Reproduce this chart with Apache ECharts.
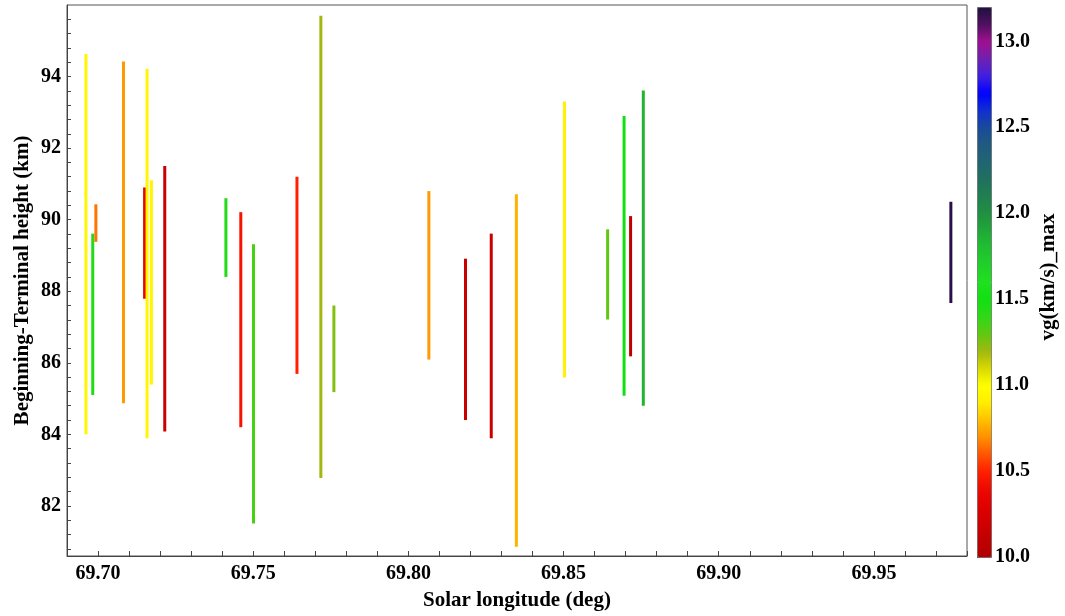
<!DOCTYPE html>
<html>
<head>
<meta charset="utf-8">
<title>Beginning-Terminal height</title>
<script src="https://cdn.jsdelivr.net/npm/echarts@6/dist/echarts.min.js"></script>
<style type="text/css">
    html, body { margin: 0; padding: 0; background: #fff; }
    #main { width: 1065px; height: 616px; }
</style>
</head>
<body>
<div id="main"></div>
<script type="text/javascript">
    // one vertical segment per meteor
    var solarLon = [69.6961, 69.6983, 69.6993, 69.7082, 69.7150, 69.7158, 69.7172, 69.7215,
        69.7412, 69.7460, 69.7501, 69.7641, 69.7718, 69.7760, 69.8066, 69.8184,
        69.8267, 69.8348, 69.8503, 69.8642, 69.8695, 69.8716, 69.8757, 69.9748];
    // beginning height (top of segment), km
    var heightBegin = [94.63, 89.61, 90.43, 94.42, 90.90, 94.22, 91.10, 91.50,
        90.60, 90.21, 89.31, 91.20, 95.70, 87.60, 90.80, 88.91,
        89.61, 90.71, 93.30, 89.73, 92.90, 90.10, 93.61, 90.50];
    // terminal height (bottom of segment), km
    var heightEnd = [84.00, 85.10, 89.38, 84.87, 87.79, 83.89, 85.39, 84.08,
        88.40, 84.20, 81.51, 85.69, 82.78, 85.18, 86.09, 84.40,
        83.89, 80.86, 85.59, 87.21, 85.08, 86.18, 84.80, 87.67];
    // vg(km/s)_max
    var vgMax = [10.95, 11.45, 10.65, 10.72, 10.35, 10.95, 10.95, 10.15,
        11.45, 10.45, 11.35, 10.50, 11.20, 11.25, 10.72, 10.15,
        10.15, 10.77, 10.93, 11.30, 11.50, 10.10, 11.85, 13.18];

    var xTickLabels = [69.70, 69.75, 69.80, 69.85, 69.90, 69.95];
    var yTickLabels = [82, 84, 86, 88, 90, 92, 94];
    var cbTickLabels = [10.0, 10.5, 11.0, 11.5, 12.0, 12.5, 13.0];

    // colour map, 10.0 .. 13.2 in steps of 0.1
    var cbColors = ['#b00000', '#c00000', '#d00000', '#e00000', '#ee0800', '#ff2000', '#ff5500',
        '#ff9000', '#ffc000', '#ffee00', '#ffff00', '#d8d800', '#a0b810', '#60c810', '#30d818',
        '#10e010', '#20e020', '#20d028', '#20c030', '#20a838', '#209040', '#208050', '#207060',
        '#206570', '#205a80', '#1a4a9a', '#1030d0', '#0000ff', '#4020e0', '#7020b0', '#a01090',
        '#501060', '#201040'];

    var xMinor = [];
    for (var i = 0; i <= 29; i++) xMinor.push(Math.round((69.69 + i * 0.01) * 100) / 100);
    var yMinor = [];
    for (var j = 0; j <= 37; j++) yMinor.push(Math.round((80.8 + j * 0.4) * 10) / 10);

    var meteorData = solarLon.map(function (x, k) {
        return [x, heightEnd[k], heightBegin[k], vgMax[k]];
    });

    var labelFont = {color: '#000', fontFamily: 'Liberation Serif', fontWeight: 'bold', fontSize: 20};
    var nameFont = {color: '#000', fontFamily: 'Liberation Serif', fontWeight: 'bold', fontSize: 21};

    var chart = echarts.init(document.getElementById('main'));
    chart.setOption({
        animation: false,
        backgroundColor: '#fff',
        grid: [
            {left: 67, right: 98, top: 5, bottom: 60, show: true, borderColor: '#555', borderWidth: 1},
            {left: 977, top: 7, width: 14, height: 550}
        ],
        xAxis: [{
            type: 'value',
            min: 69.69,
            max: 69.98,
            name: 'Solar longitude (deg)',
            nameLocation: 'middle',
            nameGap: 34,
            nameMoveOverlap: false,
            nameTextStyle: nameFont,
            axisLine: {lineStyle: {color: '#444'}},
            axisTick: {inside: true, length: 5, customValues: xMinor, lineStyle: {color: '#444'}},
            axisLabel: Object.assign({
                customValues: xTickLabels, margin: 8,
                formatter: function (v) { return v.toFixed(2); }
            }, labelFont),
            splitLine: {show: false}
        }, {
            gridIndex: 1, type: 'value', show: false
        }],
        yAxis: [{
            type: 'value',
            min: 80.6,
            max: 96.0,
            name: 'Beginning-Terminal height (km)',
            nameLocation: 'middle',
            nameGap: 34,
            nameMoveOverlap: false,
            nameTextStyle: nameFont,
            axisLine: {lineStyle: {color: '#444'}},
            axisTick: {inside: true, length: 4, customValues: yMinor, lineStyle: {color: '#444'}},
            axisLabel: Object.assign({customValues: yTickLabels, margin: 6}, labelFont),
            splitLine: {show: false}
        }, {
            gridIndex: 1,
            type: 'value',
            position: 'right',
            min: 10,
            max: 13.2,
            axisLine: {show: false},
            axisTick: {length: 3, customValues: cbTickLabels, lineStyle: {color: '#333'}},
            axisLabel: Object.assign({
                customValues: cbTickLabels, margin: 4,
                formatter: function (v) { return v.toFixed(1); }
            }, labelFont),
            splitLine: {show: false}
        }],
        visualMap: {
            type: 'continuous',
            min: 10,
            max: 13.2,
            dimension: 3,
            seriesIndex: 0,
            orient: 'vertical',
            left: 977,
            top: 7,
            itemWidth: 14,
            itemHeight: 550,
            padding: 0,
            calculable: false,
            hoverLink: false,
            borderColor: '#666',
            borderWidth: 1,
            inRange: {color: cbColors}
        },
        graphic: [{
            type: 'text',
            x: 1049,
            y: 277,
            rotation: Math.PI / 2,
            style: {
                text: 'vg(km/s)_max',
                font: 'bold 21px "Liberation Serif"',
                fill: '#000',
                align: 'center',
                verticalAlign: 'middle'
            }
        }],
        series: [{
            type: 'custom',
            xAxisIndex: 0,
            yAxisIndex: 0,
            data: meteorData,
            encode: {x: 0, y: [1, 2]},
            renderItem: function (params, api) {
                var p0 = api.coord([api.value(0), api.value(1)]);
                var p1 = api.coord([api.value(0), api.value(2)]);
                return {
                    type: 'line',
                    shape: {x1: p0[0], y1: p0[1], x2: p1[0], y2: p1[1]},
                    style: {stroke: api.visual('color'), lineWidth: 3}
                };
            }
        }]
    });
</script>
</body>
</html>
